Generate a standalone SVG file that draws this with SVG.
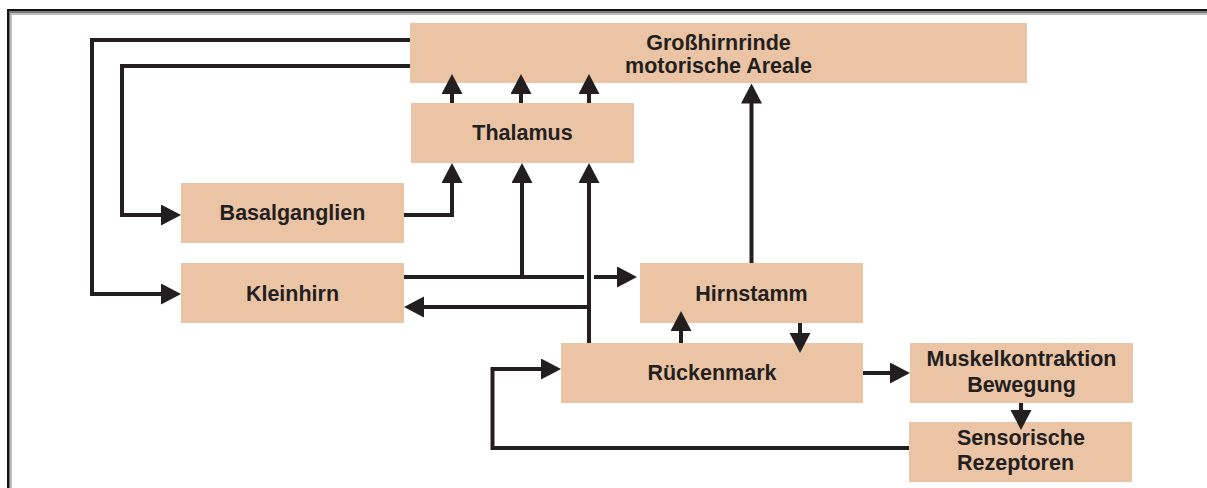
<svg xmlns="http://www.w3.org/2000/svg" width="1207" height="488" viewBox="0 0 1207 488">
  <style>
    .box { fill: #eac4a4; }
    .lbl { font-family: "Liberation Sans", Arial, sans-serif; font-weight: bold; font-size: 21.5px; fill: #231f20; text-anchor: middle; }
    .lbl-start { text-anchor: start; }
    .wire { fill: none; stroke: #231f20; stroke-width: 4; stroke-linejoin: miter; stroke-linecap: butt; }
    .arrow { marker-end: url(#head); }
  </style>
  <defs>
    <marker id="head" markerUnits="userSpaceOnUse" markerWidth="21" markerHeight="22" refX="16" refY="10.5" orient="auto">
      <path d="M0,0 L20,10.5 L0,21 Z" fill="#231f20"/>
    </marker>
  </defs>

  <!-- page frame -->
  <g id="frame">
    <rect x="7" y="9" width="1200" height="2.5" fill="#111"/>
    <rect x="9" y="11.5" width="1198" height="1.5" fill="#777"/>
    <rect x="9" y="13" width="1198" height="2" fill="#bdbdbd"/>
    <rect x="7" y="9" width="2" height="479" fill="#111"/>
    <rect x="9" y="11.5" width="1.5" height="476.5" fill="#777"/>
    <rect x="10.5" y="13" width="1.5" height="475" fill="#bdbdbd"/>
  </g>

  <!-- nodes -->
  <g id="grosshirnrinde">
    <rect class="box" x="410" y="23" width="617" height="60"/>
    <text class="lbl" x="718.5" y="49.5">Großhirnrinde</text>
    <text class="lbl" x="718.5" y="73">motorische Areale</text>
  </g>
  <g id="thalamus">
    <rect class="box" x="411" y="103" width="223" height="60"/>
    <text class="lbl" x="522.5" y="140">Thalamus</text>
  </g>
  <g id="basalganglien">
    <rect class="box" x="181" y="183" width="223" height="60"/>
    <text class="lbl" x="292.5" y="219.5">Basalganglien</text>
  </g>
  <g id="kleinhirn">
    <rect class="box" x="181" y="263" width="223" height="60"/>
    <text class="lbl" x="292.5" y="300.5">Kleinhirn</text>
  </g>
  <g id="hirnstamm">
    <rect class="box" x="640" y="263" width="223" height="60"/>
    <text class="lbl" x="751.5" y="301">Hirnstamm</text>
  </g>
  <g id="rueckenmark">
    <rect class="box" x="561" y="343" width="302" height="60"/>
    <text class="lbl" x="712" y="380">Rückenmark</text>
  </g>
  <g id="muskelkontraktion">
    <rect class="box" x="910" y="343" width="223" height="60"/>
    <text class="lbl" x="1021.5" y="366">Muskelkontraktion</text>
    <text class="lbl" x="1021.5" y="392">Bewegung</text>
  </g>
  <g id="sensorische-rezeptoren">
    <rect class="box" x="909" y="422" width="223" height="60"/>
    <text class="lbl lbl-start" x="957" y="445">Sensorische</text>
    <text class="lbl lbl-start" x="957" y="470">Rezeptoren</text>
  </g>

  <!-- connectors -->
  <g id="connectors">
    <!-- cortex loops back to cerebellum and basal ganglia -->
    <path class="wire arrow" d="M410,40 H92 V294 H177"/>
    <path class="wire arrow" d="M410,66 H122 V215 H177"/>
    <!-- basal ganglia to thalamus -->
    <path class="wire arrow" d="M404,215 H452 V167"/>
    <!-- cerebellum to brainstem, hopping over the spinal cord riser -->
    <path class="wire" d="M404,277 H584"/>
    <path class="wire arrow" d="M594,277 H633"/>
    <path class="wire arrow" d="M522,279 V167"/>
    <!-- spinal cord up to thalamus, branch to cerebellum -->
    <path class="wire arrow" d="M589,343 V167"/>
    <path class="wire arrow" d="M591,307 H408"/>
    <!-- thalamus to cortex -->
    <path class="wire arrow" d="M452,103 V78"/>
    <path class="wire arrow" d="M521,103 V78"/>
    <path class="wire arrow" d="M589,103 V78"/>
    <!-- brainstem to cortex -->
    <path class="wire arrow" d="M751.5,263 V87.5"/>
    <!-- spinal cord and brainstem -->
    <path class="wire arrow" d="M681,343 V315"/>
    <path class="wire arrow" d="M800,323 V349"/>
    <!-- motor output and sensory feedback -->
    <path class="wire arrow" d="M863,373 H906"/>
    <path class="wire arrow" d="M1021,403 V426"/>
    <path class="wire arrow" d="M909,448 H492.5 V369 H557"/>
  </g>
</svg>
